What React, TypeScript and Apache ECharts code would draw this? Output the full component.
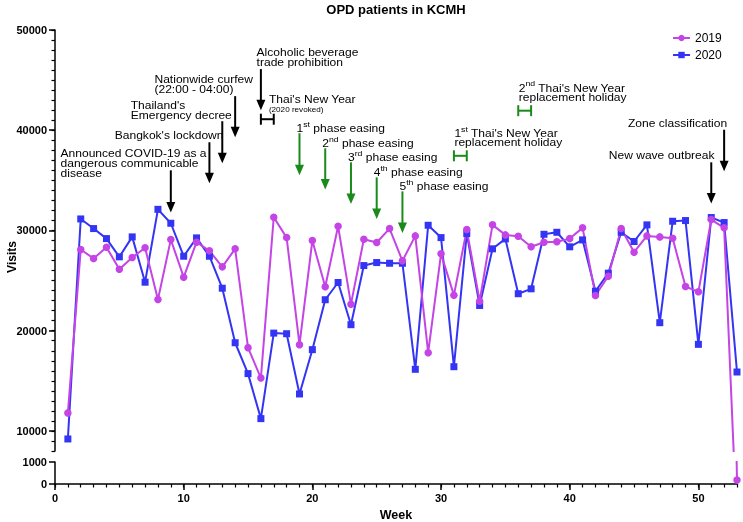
import React, { useEffect, useRef } from "react";
import * as echarts from "echarts";

const weeks = [1, 2, 3, 4, 5, 6, 7, 8, 9, 10, 11, 12, 13, 14, 15, 16, 17, 18, 19, 20, 21, 22, 23, 24, 25, 26, 27, 28, 29, 30, 31, 32, 33, 34, 35, 36, 37, 38, 39, 40, 41, 42, 43, 44, 45, 46, 47, 48, 49, 50, 51, 52, 53];
const visits2019 = [11800, 28100, 27200, 28330, 26140, 27300, 28270, 23120, 29090, 25340, 28830, 27970, 26370, 28170, 18310, 15280, 31320, 29290, 18610, 28990, 24380, 30420, 22650, 29120, 28800, 30190, 26970, 29460, 17810, 27670, 23550, 30090, 22950, 30560, 29560, 29420, 28370, 28830, 28870, 29190, 30260, 23520, 25440, 30190, 27830, 29460, 29360, 29220, 24410, 23880, 31090, 30260, 180];
const visits2020 = [9200, 31150, 30190, 29190, 27370, 29360, 24840, 32110, 30720, 27430, 29260, 27430, 24240, 18800, 15720, 11230, 19760, 19700, 13690, 18110, 23090, 24810, 20600, 26500, 26800, 26730, 26730, 16150, 30520, 29290, 16410, 29690, 22520, 28170, 29160, 23690, 24180, 29620, 29820, 28370, 29060, 23940, 25740, 29820, 28900, 30560, 20800, 30920, 30990, 18640, 31290, 30790, 15880];
const upperTicks = [10000, 20000, 30000, 40000, 50000];
const lowerTicks = [0, 1000];
const xTicks = [0, 10, 20, 30, 40, 50];
const chartTitle = "OPD patients in KCMH";
const yTitle = "Visits";
const xTitle = "Week";

// annotation content (anchored in data coordinates)
const events = [
  { label: "Announced COVID-19 as a\ndangerous communicable\ndisease", week: 9, top: 36000, tip: 31800 },
  { label: "Bangkok's lockdown", week: 12, top: 38800, tip: 34700 },
  { label: "Thailand's\nEmergency decree", week: 13, top: 40900, tip: 36700 },
  { label: "Nationwide curfew\n(22:00 - 04:00)", week: 14, top: 43400, tip: 39300 },
  { label: "Alcoholic beverage\ntrade prohibition", week: 16, top: 46100, tip: 42000 },
  { label: "New wave outbreak", week: 51, top: 36800, tip: 32700 },
  { label: "Zone classification", week: 52, top: 40050, tip: 35900 },
];
const easings = [
  { ord: "1", sup: "st", week: 19, top: 39700, tip: 35500 },
  { ord: "2", sup: "nd", week: 21, top: 38200, tip: 34100 },
  { ord: "3", sup: "rd", week: 23, top: 36800, tip: 32650 },
  { ord: "4", sup: "th", week: 25, top: 35300, tip: 31150 },
  { ord: "5", sup: "th", week: 27, top: 33900, tip: 29750 },
];
const holidays = [
  { from: 16, to: 17, level: 41100, ord: "", sup: "", line1: "Thai's New Year", line2: "(2020 revoked)" },
  { from: 31, to: 32, level: 37450, ord: "1", sup: "st", line1: " Thai's New Year", line2: "replacement holiday" },
  { from: 36, to: 37, level: 41950, ord: "2", sup: "nd", line1: " Thai's New Year", line2: "replacement holiday" },
];

// layout of annotation texts (pixel offsets from arrow top)
const eventLayout = [
  { dx: -110.3, dy: -16.7, align: "left" },
  { dx: -94.7, dy: -6.6, align: "left" },
  { dx: -91.6, dy: -15.7, align: "left" },
  { dx: -80.7, dy: -16.7, align: "left" },
  { dx: -4.3, dy: -16.3, align: "left" },
  { dx: 3.3, dy: -6.7, align: "right" },
  { dx: 3, dy: -6, align: "right" },
];

const FONT = 'Arial, "Liberation Sans", Helvetica, sans-serif';
const MAGENTA = "#c444e6";
const BLUE = "#3434f4";
const GREEN = "#1a8a1a";
const BLACK = "#000000";
const AFS = 10.4; // annotation font size
const ASX = 1.16; // horizontal stretch of annotation text
const ALH = 9.7; // annotation line height

export default function App() {
  const ref = useRef<HTMLDivElement>(null);
  useEffect(() => {
    const chart = echarts.init(ref.current!, null, { renderer: "svg" });
    const pairs = (vals: number[]) => weeks.map((w, i) => [w, vals[i]]);
    const mk = (name: string, vals: number[], color: string, symbol: string, xi: number, yi: number) => ({
      type: "line",
      name,
      data: pairs(vals),
      xAxisIndex: xi,
      yAxisIndex: yi,
      symbol,
      symbolSize: symbol === "rect" ? 7 : 7.5,
      showSymbol: true,
      clip: true,
      itemStyle: { color },
      lineStyle: { color, width: 2 },
      emphasis: { disabled: true },
    });
    const axisLine = { show: true, lineStyle: { color: BLACK, width: 1.5 } };
    const label = { color: BLACK, fontFamily: FONT, fontSize: 11, fontWeight: "bold", formatter: (v: number) => String(v) };
    chart.setOption({
      animation: false,
      legend: {
        data: ["2019", "2020"],
        orient: "vertical",
        left: 667,
        top: 27,
        itemWidth: 17,
        itemHeight: 8,
        itemGap: 5,
        textStyle: { fontFamily: FONT, fontSize: 12, color: BLACK },
      },
      grid: [
        { left: 55, right: 6, top: 30, height: 421 },
        { left: 55, right: 6, top: 462, height: 23 },
      ],
      xAxis: [
        { type: "value", gridIndex: 0, min: 0, max: 53, show: false },
        {
          type: "value", gridIndex: 1, min: 0, max: 53, position: "bottom",
          axisLine,
          axisTick: { show: true, length: 6, customValues: xTicks, lineStyle: { color: BLACK, width: 1.5 } },
          axisLabel: { ...label, customValues: xTicks, margin: 8 },
          splitLine: { show: false },
          name: xTitle, nameLocation: "middle", nameGap: 24,
          nameTextStyle: { fontFamily: FONT, fontSize: 12.5, fontWeight: "bold", color: BLACK },
        },
        {
          type: "value", gridIndex: 1, min: 0, max: 53, interval: 1, position: "bottom",
          axisLine: { show: false },
          axisTick: { show: true, length: 3.5, lineStyle: { color: BLACK, width: 1.2 } },
          axisLabel: { show: false },
          splitLine: { show: false },
        },
      ],
      yAxis: [
        {
          type: "value", gridIndex: 0, min: 8000, max: 50000, position: "left",
          axisLine,
          axisTick: { show: true, length: 6, customValues: upperTicks, lineStyle: { color: BLACK, width: 1.5 } },
          axisLabel: { ...label, customValues: upperTicks, margin: 8 },
          splitLine: { show: false },
        },
        {
          type: "value", gridIndex: 0, min: 8000, max: 50000, interval: 1000, position: "left",
          axisLine: { show: false },
          axisTick: { show: true, length: 3.5, lineStyle: { color: BLACK, width: 1.2 } },
          axisLabel: { show: false },
          splitLine: { show: false },
        },
        {
          type: "value", gridIndex: 1, min: 0, max: 1000, interval: 1000, position: "left",
          axisLine,
          axisTick: { show: true, length: 6, customValues: lowerTicks, lineStyle: { color: BLACK, width: 1.5 } },
          axisLabel: { ...label, customValues: lowerTicks, margin: 8 },
          splitLine: { show: false },
        },
      ],
      series: [
        mk("2020", visits2020, BLUE, "rect", 0, 0),
        mk("2019", visits2019, MAGENTA, "circle", 0, 0),
        mk("2020", visits2020, BLUE, "rect", 1, 2),
        mk("2019", visits2019, MAGENTA, "circle", 1, 2),
      ],
    });

    const px = (w: number, v: number) => chart.convertToPixel({ xAxisIndex: 0, yAxisIndex: 0 }, [w, v]) as number[];
    const g: any[] = [];
    const arrow = (x: number, y1: number, y2: number, color: string) => {
      g.push({ type: "line", shape: { x1: x, y1, x2: x, y2: y2 - 8 }, style: { stroke: color, lineWidth: 2 }, z: 50 });
      g.push({ type: "polygon", shape: { points: [[x - 4.5, y2 - 10.5], [x + 4.5, y2 - 10.5], [x, y2]] }, style: { fill: color }, z: 50 });
    };
    // multi-line text; yTop = top of first line box
    const text = (x: number, yTop: number, t: string, align: string, fs = AFS) => {
      g.push({
        type: "text", x, y: yTop, scaleX: ASX, z: 50,
        style: { text: t, fill: BLACK, fontFamily: FONT, fontSize: fs, lineHeight: ALH, align, verticalAlign: "top" },
      });
    };
    const supText = (x: number, yCenter: number, ord: string, sup: string, rest: string) => {
      g.push({
        type: "text", x, y: yCenter - 8, scaleX: ASX, z: 50,
        style: {
          text: `{a|${ord}}{s|${sup}}{a|${rest}}`,
          align: "left", verticalAlign: "top",
          rich: {
            a: { fill: BLACK, fontFamily: FONT, fontSize: AFS, lineHeight: 16 },
            s: { fill: BLACK, fontFamily: FONT, fontSize: 7.5, lineHeight: 8, verticalAlign: "top" },
          },
        },
      });
    };

    events.forEach((e, i) => {
      const [x, y1] = px(e.week, e.top);
      const [, y2] = px(e.week, e.tip);
      arrow(x, y1, y2, BLACK);
      const L = eventLayout[i];
      text(x + L.dx, y1 + L.dy - ALH / 2, e.label, L.align);
    });
    easings.forEach((e) => {
      const [x, y1] = px(e.week, e.top);
      const [, y2] = px(e.week, e.tip);
      arrow(x, y1, y2, GREEN);
      supText(x - 3, y1 - 5, e.ord, e.sup, " phase easing");
    });
    holidays.forEach((h, i) => {
      const [x1, y] = px(h.from, h.level);
      const [x2] = px(h.to, h.level);
      const color = i === 0 ? BLACK : GREEN;
      g.push({ type: "line", shape: { x1, y1: y - 5.5, x2: x1, y2: y + 5.5 }, style: { stroke: color, lineWidth: 2 }, z: 50 });
      g.push({ type: "line", shape: { x1: x2, y1: y - 5.5, x2, y2: y + 5.5 }, style: { stroke: color, lineWidth: 2 }, z: 50 });
      g.push({ type: "line", shape: { x1, y1: y, x2, y2: y }, style: { stroke: color, lineWidth: 2 }, z: 50 });
      if (i === 0) {
        text(x1 + 8, y - 20.3 - ALH / 2, h.line1, "left");
        g.push({
          type: "text", x: x1 + 8, y: y - 10, scaleX: ASX, z: 50,
          style: { text: h.line2, fill: BLACK, fontFamily: FONT, fontSize: 7, align: "left", verticalAlign: "middle" },
        });
      } else {
        supText(x1 + 0.5, y - 22.6, h.ord, h.sup, h.line1);
        text(x1 + 0.5, y - 13.6 - ALH / 2, h.line2, "left");
      }
    });
    // chart title, centred over the plot area
    const [pl] = px(0, 50000);
    const [pr] = px(53, 50000);
    g.push({
      type: "text", x: (pl + pr) / 2, y: 9, z: 50,
      style: { text: chartTitle, fill: BLACK, fontFamily: FONT, fontSize: 13, fontWeight: "bold", align: "center", verticalAlign: "middle" },
    });
    // y axis title
    g.push({
      type: "text", x: 12, y: 257, rotation: Math.PI / 2, z: 50,
      style: { text: yTitle, fill: BLACK, fontFamily: FONT, fontSize: 12, fontWeight: "bold", align: "center", verticalAlign: "middle" },
    });
    chart.setOption({ graphic: g });

    return () => chart.dispose();
  }, []);
  return <div ref={ref} style={{ position: "fixed", left: 0, top: 0, width: 743, height: 522 }} />;
}
